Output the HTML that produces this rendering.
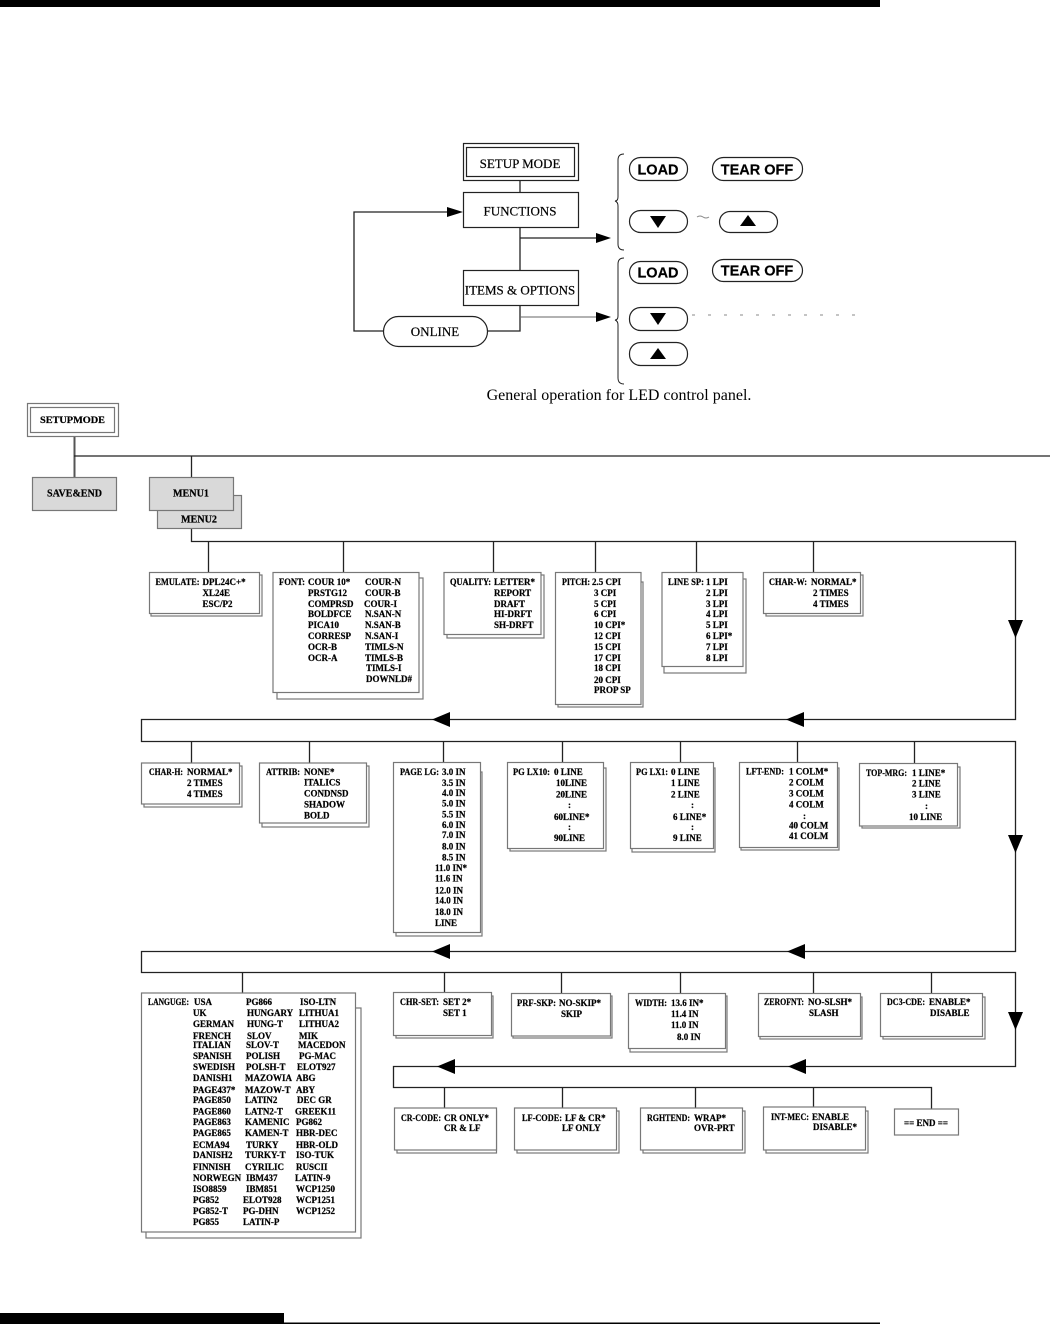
<!DOCTYPE html>
<html><head><meta charset="utf-8"><style>
html,body{margin:0;padding:0;background:#fff}
svg{display:block}
.t text{font:bold 9px "Liberation Serif",serif;fill:#000;stroke:#000;stroke-width:.22}
.t text.m{font-size:10px}
.b rect{fill:#fff;stroke:#777;stroke-width:1.2}
.l{stroke:#222;stroke-width:1.3;fill:none}
.g{fill:#d9d9d9;stroke:#777;stroke-width:1.2}
.h{font:13px "Liberation Serif",serif;fill:#000;text-anchor:middle;stroke:#000;stroke-width:.2}
.s{font:bold 14.5px "Liberation Sans",sans-serif;fill:#000;text-anchor:middle;stroke:#000;stroke-width:.2}
.p{fill:#fff;stroke:#222;stroke-width:1.2}
</style></head><body>
<svg width="1050" height="1324" viewBox="0 0 1050 1324" xmlns="http://www.w3.org/2000/svg">
<defs><clipPath id="c"><rect x="480" y="389" width="280" height="20"/></clipPath></defs>
<rect x="0" y="0" width="880" height="7" fill="#000"/>
<rect x="0" y="1313" width="284" height="11" fill="#000"/>
<rect x="284" y="1322.500" width="596" height="1.500" fill="#000"/>

<!-- top diagram -->
<rect x="463.500" y="143.500" width="115" height="37" fill="#fff" stroke="#222" stroke-width="1.2"/>
<rect x="466.500" y="147.500" width="108" height="29" fill="#fff" stroke="#222" stroke-width="1.2"/>
<text class="h" x="520" y="168">SETUP MODE</text>
<path class="l" d="M520 180V192M520 227V270M520 305V331H487M383 331H354V212H448M520 238H597"/>
<path d="M520 317H597" stroke="#666" stroke-width="1" fill="none"/>
<rect x="463.500" y="192.500" width="115" height="35" fill="#fff" stroke="#222" stroke-width="1.2"/>
<text class="h" x="520" y="215.500">FUNCTIONS</text>
<rect x="463.500" y="270.500" width="115" height="35" fill="#fff" stroke="#222" stroke-width="1.2"/>
<text class="h" x="520" y="294.500">ITEMS &amp; OPTIONS</text>
<rect x="383.500" y="316.500" width="104" height="30" rx="15" class="p"/>
<text class="h" x="435" y="336">ONLINE</text>
<path d="M447 207L463 212L447 217ZM596 233L611 238L596 243ZM596 312L611 317L596 322Z" fill="#000"/>
<path d="M624 154Q618 154 618 160V197Q618 201 615 201Q618 202 618 206V244Q618 250 624 250M624 258Q618 258 618 264V316Q618 320 615 320Q618 321 618 325V378Q618 384 624 384" fill="none" stroke="#222" stroke-width="1"/>
<rect x="629.500" y="157.500" width="58" height="23" rx="11" class="p"/>
<text class="s" x="658" y="174.500">LOAD</text>
<rect x="712.500" y="157.500" width="90" height="23" rx="11" class="p"/>
<text class="s" x="757" y="174.500">TEAR OFF</text>
<rect x="629.500" y="210.500" width="58" height="22" rx="11" class="p"/>
<path d="M650 216H666L658 228Z" fill="#000"/>
<path d="M697 217Q700 215 703 217T709 217" stroke="#888" stroke-width="1" fill="none"/>
<rect x="719.500" y="211.500" width="58" height="21" rx="10.500" class="p"/>
<path d="M740 226H756L748 215Z" fill="#000"/>
<rect x="629.500" y="261.500" width="58" height="22" rx="11" class="p"/>
<text class="s" x="658" y="277.500">LOAD</text>
<rect x="712.500" y="259.500" width="90" height="22" rx="11" class="p"/>
<text class="s" x="757" y="275.500">TEAR OFF</text>
<rect x="629.500" y="307.500" width="58" height="23" rx="11" class="p"/>
<path d="M650 313H666L658 325Z" fill="#000"/>
<rect x="629.500" y="342.500" width="58" height="23" rx="11" class="p"/>
<path d="M650 359H666L658 348Z" fill="#000"/>
<path d="M692 315H858" stroke="#888" stroke-width="1" stroke-dasharray="3 13" fill="none"/>
<text x="619" y="400" clip-path="url(#c)" text-anchor="middle" style="font:16px 'Liberation Serif',serif">General operation for LED control panel.</text>

<!-- connectors -->
<path d="M74.500 436V477" stroke="#555" stroke-width="2" fill="none"/>
<path class="l" d="M74 456H1050M191.500 456V477M191.500 528V541.500H1015.500V719.500H141.500V741.500H1015.500V951.500H141.500V972.500H1015.500V1066.500H393.500V1087.500H931.500V1109"/>
<path class="l" stroke="#555" d="M208.500 541V572M343.500 541V572M493.500 541V572M595.500 541V572M696.500 541V572M813.500 541V572M191.500 741V763M309.500 741V763M443.500 741V763M562.500 741V763M680.500 741V763M797.500 741V763M914.500 741V763M242.500 972V993M444.500 972V993M561.500 972V993M680.500 972V993M813.500 972V993M931.500 972V993M444.500 1087V1108M562.500 1087V1108M695.500 1087V1108M813.500 1087V1108"/>
<path d="M1008 620H1023L1015.500 638ZM1008 835H1023L1015.500 853ZM1008 1012H1023L1015.500 1030ZM432 719.500L450 712V727ZM786 719.500L804 712V727ZM432 951.500L450 944V959ZM787 951.500L805 944V959ZM437 1066.500L455 1059V1074ZM788 1066.500L806 1059V1074Z" fill="#000"/>

<!-- header boxes -->
<rect x="27.500" y="403.500" width="91" height="33" fill="#fff" stroke="#777" stroke-width="1.2"/>
<rect x="30.500" y="407.500" width="84" height="25" fill="#fff" stroke="#777" stroke-width="1.2"/>
<rect class="g" x="32.500" y="477.500" width="84" height="33"/>
<rect class="g" x="157.500" y="495.500" width="84" height="33"/>
<rect class="g" x="149.500" y="477.500" width="84" height="33"/>

<!-- boxes -->
<g class="b">
<rect x="151" y="575" width="111" height="41"/><rect x="149.500" y="572.500" width="110" height="41"/>
<rect x="277" y="578" width="146" height="121"/><rect x="273" y="572.500" width="146" height="120"/>
<rect x="447" y="575" width="97" height="63"/><rect x="444" y="572.500" width="97" height="62"/>
<rect x="558" y="582" width="85" height="125"/><rect x="555.500" y="572.500" width="85.500" height="132"/>
<rect x="664" y="579" width="82" height="94"/><rect x="662" y="572.500" width="81" height="94"/>
<rect x="766" y="575" width="97" height="41"/><rect x="763.500" y="572.500" width="97" height="41"/>
<rect x="144" y="766" width="98" height="41"/><rect x="141.500" y="763" width="98" height="41"/>
<rect x="262" y="766" width="107" height="61"/><rect x="259.500" y="763" width="107" height="60"/>
<rect x="396" y="772" width="86" height="164"/><rect x="393.500" y="762.500" width="87" height="170"/>
<rect x="510" y="768" width="96" height="83"/><rect x="507.500" y="762.500" width="96" height="86"/>
<rect x="632" y="768" width="83" height="84"/><rect x="630.500" y="762.500" width="83" height="86"/>
<rect x="741" y="768" width="98" height="82"/><rect x="739.500" y="762.500" width="98" height="85"/>
<rect x="862" y="767" width="98" height="61"/><rect x="859.500" y="763.500" width="98" height="62.500"/>
<rect x="146" y="1008" width="215" height="230"/><rect x="141.500" y="993" width="214" height="239"/>
<rect x="396" y="996" width="97" height="42"/><rect x="393.500" y="992.500" width="98" height="43"/>
<rect x="513" y="996" width="99" height="42"/><rect x="511.500" y="993.500" width="99" height="42.500"/>
<rect x="630" y="996" width="97" height="56"/><rect x="628.500" y="993.500" width="97" height="55"/>
<rect x="760" y="997" width="102" height="42"/><rect x="758.500" y="993.500" width="102" height="43"/>
<rect x="883" y="997" width="102" height="42"/><rect x="880.500" y="993.500" width="102" height="43"/>
<rect x="397" y="1111" width="99.500" height="42"/><rect x="394.500" y="1108" width="102" height="42"/>
<rect x="517" y="1111" width="102" height="42"/><rect x="514.500" y="1108" width="102" height="42"/>
<rect x="643" y="1111" width="102" height="42"/><rect x="640.500" y="1108" width="102" height="42"/>
<rect x="766" y="1111" width="102" height="42"/><rect x="763.500" y="1107" width="102" height="43"/>
<rect x="894.500" y="1109" width="64" height="26"/>
</g>

<!-- text -->
<g class="t">
<text x="40" y="423" textLength="65" lengthAdjust="spacingAndGlyphs">SETUPMODE</text>
<text class="m" x="47" y="496.500" textLength="55" lengthAdjust="spacingAndGlyphs">SAVE&amp;END</text><text class="m" x="173" y="496.500" textLength="36" lengthAdjust="spacingAndGlyphs">MENU1</text><text class="m" x="181" y="522.500" textLength="36" lengthAdjust="spacingAndGlyphs">MENU2</text>

<text x="155.500" y="585" textLength="44" lengthAdjust="spacingAndGlyphs">EMULATE:</text><text x="202.500" y="585">DPL24C+*</text><text x="202.500" y="596">XL24E</text><text x="202.500" y="607">ESC/P2</text>

<text x="279" y="585" textLength="26" lengthAdjust="spacingAndGlyphs">FONT:</text><text x="308" y="585">COUR 10*</text><text x="308" y="596">PRSTG12</text><text x="308" y="607">COMPRSD</text><text x="308" y="617">BOLDFCE</text><text x="308" y="628">PICA10</text><text x="308" y="639">CORRESP</text><text x="308" y="650">OCR-B</text><text x="308" y="661">OCR-A</text>
<text x="365" y="585">COUR-N</text><text x="365" y="596">COUR-B</text><text x="364" y="607">COUR-I</text><text x="365" y="617">N.SAN-N</text><text x="365" y="628">N.SAN-B</text><text x="365" y="639">N.SAN-I</text><text x="365" y="650">TIMLS-N</text><text x="365" y="661">TIMLS-B</text><text x="366" y="671">TIMLS-I</text><text x="366" y="682">DOWNLD#</text>

<text x="450" y="585" textLength="41" lengthAdjust="spacingAndGlyphs">QUALITY:</text><text x="494" y="585">LETTER*</text><text x="494" y="596">REPORT</text><text x="494" y="607">DRAFT</text><text x="494" y="617">HI-DRFT</text><text x="494" y="628">SH-DRFT</text>

<text x="562" y="585" textLength="28" lengthAdjust="spacingAndGlyphs">PITCH:</text><text x="592" y="585">2.5 CPI</text><text x="594" y="596">3 CPI</text><text x="594" y="607">5 CPI</text><text x="594" y="617">6 CPI</text><text x="594" y="628">10 CPI*</text><text x="594" y="639">12 CPI</text><text x="594" y="650">15 CPI</text><text x="594" y="661">17 CPI</text><text x="594" y="671">18 CPI</text><text x="594" y="683">20 CPI</text><text x="594" y="693">PROP SP</text>

<text x="668" y="585" textLength="36" lengthAdjust="spacingAndGlyphs">LINE SP:</text><text x="706" y="585">1 LPI</text><text x="706" y="596">2 LPI</text><text x="706" y="607">3 LPI</text><text x="706" y="617">4 LPI</text><text x="706" y="628">5 LPI</text><text x="706" y="639">6 LPI*</text><text x="706" y="650">7 LPI</text><text x="706" y="661">8 LPI</text>

<text x="769" y="585" textLength="38" lengthAdjust="spacingAndGlyphs">CHAR-W:</text><text x="811" y="585">NORMAL*</text><text x="813" y="596">2 TIMES</text><text x="813" y="607">4 TIMES</text>

<text x="149" y="775" textLength="34" lengthAdjust="spacingAndGlyphs">CHAR-H:</text><text x="187" y="775">NORMAL*</text><text x="187" y="786">2 TIMES</text><text x="187" y="797">4 TIMES</text>

<text x="266" y="775" textLength="34" lengthAdjust="spacingAndGlyphs">ATTRIB:</text><text x="304" y="775">NONE*</text><text x="304" y="785.500">ITALICS</text><text x="304" y="796.500">CONDNSD</text><text x="304" y="807.500">SHADOW</text><text x="304" y="818.500">BOLD</text>

<text x="400" y="775" textLength="39" lengthAdjust="spacingAndGlyphs">PAGE LG:</text><text x="442" y="775">3.0 IN</text><text x="442" y="786">3.5 IN</text><text x="442" y="796">4.0 IN</text><text x="442" y="806.500">5.0 IN</text><text x="442" y="817.500">5.5 IN</text><text x="442" y="828">6.0 IN</text><text x="442" y="838">7.0 IN</text><text x="442" y="849.500">8.0 IN</text><text x="442" y="860.500">8.5 IN</text><text x="435" y="871">11.0 IN*</text><text x="435" y="881.500">11.6 IN</text><text x="435" y="893.500">12.0 IN</text><text x="435" y="903.500">14.0 IN</text><text x="435" y="915">18.0 IN</text><text x="435" y="926">LINE</text>

<text x="513" y="775" textLength="37" lengthAdjust="spacingAndGlyphs">PG LX10:</text><text x="554" y="775">0 LINE</text><text x="556" y="786">10LINE</text><text x="556" y="797.500">20LINE</text><text x="568" y="808">:</text><text x="554" y="820">60LINE*</text><text x="568" y="830">:</text><text x="554" y="841">90LINE</text>

<text x="636" y="775" textLength="32" lengthAdjust="spacingAndGlyphs">PG LX1:</text><text x="671" y="775">0 LINE</text><text x="671" y="786">1 LINE</text><text x="671" y="797.500">2 LINE</text><text x="691" y="808">:</text><text x="673" y="820">6 LINE*</text><text x="691" y="830">:</text><text x="673" y="841">9 LINE</text>

<text x="746" y="774.500" textLength="38" lengthAdjust="spacingAndGlyphs">LFT-END:</text><text x="789" y="774.500">1 COLM*</text><text x="789" y="785.500">2 COLM</text><text x="789" y="796.500">3 COLM</text><text x="789" y="807.500">4 COLM</text><text x="803" y="819">:</text><text x="789" y="828.500">40 COLM</text><text x="789" y="839">41 COLM</text>

<text x="866" y="776" textLength="41" lengthAdjust="spacingAndGlyphs">TOP-MRG:</text><text x="912" y="776">1 LINE*</text><text x="912" y="786.500">2 LINE</text><text x="912" y="797.500">3 LINE</text><text x="925" y="809">:</text><text x="909" y="820">10 LINE</text>

<text x="148" y="1005" textLength="41" lengthAdjust="spacingAndGlyphs">LANGUGE:</text>
<text x="194" y="1005">USA</text><text x="193" y="1016">UK</text><text x="193" y="1027">GERMAN</text><text x="193" y="1039">FRENCH</text><text x="193" y="1048">ITALIAN</text><text x="193" y="1059">SPANISH</text><text x="193" y="1070">SWEDISH</text><text x="193" y="1081">DANISH1</text><text x="193" y="1093">PAGE437*</text><text x="193" y="1103">PAGE850</text><text x="193" y="1114.500">PAGE860</text><text x="193" y="1125">PAGE863</text><text x="193" y="1136">PAGE865</text><text x="193" y="1148">ECMA94</text><text x="193" y="1158">DANISH2</text><text x="193" y="1170">FINNISH</text><text x="193" y="1181">NORWEGN</text><text x="193" y="1192">ISO8859</text><text x="193" y="1203">PG852</text><text x="193" y="1214">PG852-T</text><text x="193" y="1225">PG855</text>
<text x="246" y="1005">PG866</text><text x="247" y="1016">HUNGARY</text><text x="247" y="1027">HUNG-T</text><text x="247" y="1039">SLOV</text><text x="246" y="1048">SLOV-T</text><text x="246" y="1059">POLISH</text><text x="246" y="1070">POLSH-T</text><text x="245" y="1081">MAZOWIA</text><text x="245" y="1093">MAZOW-T</text><text x="245" y="1103">LATIN2</text><text x="245" y="1114.500">LATN2-T</text><text x="245" y="1125">KAMENIC</text><text x="245" y="1136">KAMEN-T</text><text x="246" y="1148">TURKY</text><text x="245" y="1158">TURKY-T</text><text x="245" y="1170">CYRILIC</text><text x="246" y="1181">IBM437</text><text x="246" y="1192">IBM851</text><text x="243" y="1203">ELOT928</text><text x="243" y="1214">PG-DHN</text><text x="243" y="1225">LATIN-P</text>
<text x="300" y="1005">ISO-LTN</text><text x="299" y="1016">LITHUA1</text><text x="299" y="1027">LITHUA2</text><text x="299" y="1039">MIK</text><text x="298" y="1048">MACEDON</text><text x="299" y="1059">PG-MAC</text><text x="297" y="1070">ELOT927</text><text x="296" y="1081">ABG</text><text x="296" y="1093">ABY</text><text x="297" y="1103">DEC GR</text><text x="295" y="1114.500">GREEK11</text><text x="296" y="1125">PG862</text><text x="296" y="1136">HBR-DEC</text><text x="296" y="1148">HBR-OLD</text><text x="296" y="1158">ISO-TUK</text><text x="296" y="1170">RUSCII</text><text x="295" y="1181">LATIN-9</text><text x="296" y="1192">WCP1250</text><text x="296" y="1203">WCP1251</text><text x="296" y="1214">WCP1252</text>

<text x="400" y="1005" textLength="39" lengthAdjust="spacingAndGlyphs">CHR-SET:</text><text x="443" y="1005">SET 2*</text><text x="443" y="1016">SET 1</text>
<text x="517" y="1006" textLength="39" lengthAdjust="spacingAndGlyphs">PRF-SKP:</text><text x="559" y="1006">NO-SKIP*</text><text x="561" y="1017">SKIP</text>
<text x="635" y="1006" textLength="32" lengthAdjust="spacingAndGlyphs">WIDTH:</text><text x="671" y="1006">13.6 IN*</text><text x="671" y="1017">11.4 IN</text><text x="671" y="1028">11.0 IN</text><text x="677" y="1040">8.0 IN</text>
<text x="764" y="1005" textLength="40" lengthAdjust="spacingAndGlyphs">ZEROFNT:</text><text x="808" y="1005">NO-SLSH*</text><text x="809" y="1016">SLASH</text>
<text x="887" y="1005" textLength="38" lengthAdjust="spacingAndGlyphs">DC3-CDE:</text><text x="929" y="1005">ENABLE*</text><text x="930" y="1016">DISABLE</text>

<text x="401" y="1121" textLength="40" lengthAdjust="spacingAndGlyphs">CR-CODE:</text><text x="444" y="1121">CR ONLY*</text><text x="444" y="1131">CR &amp; LF</text>
<text x="522" y="1121" textLength="40" lengthAdjust="spacingAndGlyphs">LF-CODE:</text><text x="565" y="1121">LF &amp; CR*</text><text x="562" y="1131">LF ONLY</text>
<text x="647" y="1121" textLength="43" lengthAdjust="spacingAndGlyphs">RGHTEND:</text><text x="694" y="1121">WRAP*</text><text x="694" y="1131">OVR-PRT</text>
<text x="771" y="1120" textLength="38" lengthAdjust="spacingAndGlyphs">INT-MEC:</text><text x="812" y="1120">ENABLE</text><text x="813" y="1130">DISABLE*</text>
<text x="904" y="1126">== END ==</text>
</g>
</svg>
</body></html>
